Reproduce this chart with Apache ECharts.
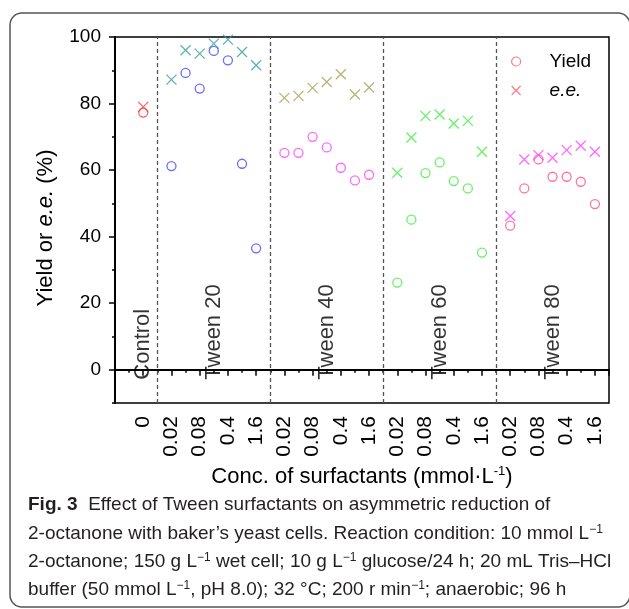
<!DOCTYPE html>
<html>
<head>
<meta charset="utf-8">
<script src="https://cdn.jsdelivr.net/npm/echarts@6/dist/echarts.min.js"></script>
<style>
  html, body { margin: 0; padding: 0; background: #fff; }
  #chart { width: 629px; height: 609px; }
</style>
</head>
<body>
<div id="chart"></div>
<script>
  // values (%), one entry per concentration level
  var groupNames = ['Control', 'Tween 20', 'Tween 40', 'Tween 60', 'Tween 80'];
  var concLevels = ['0.02', '0.04', '0.08', '0.2', '0.4', '0.8', '1.6'];
  var shownConc = ['0', '0.02', '0.08', '0.4', '1.6'];

  var controlYield = [77.3];
  var controlEe = [79.0];
  var t20Yield = [61.2, 89.2, 84.5, 95.8, 93.0, 61.9, 36.5];
  var t20Ee = [87.2, 96.0, 95.0, 98.0, 99.2, 95.5, 91.5];
  var t40Yield = [65.2, 65.2, 70.0, 66.8, 60.7, 56.9, 58.6];
  var t40Ee = [81.7, 82.3, 84.7, 86.5, 88.8, 82.7, 84.8];
  var t60Yield = [26.2, 45.1, 59.1, 62.3, 56.7, 54.5, 35.2];
  var t60Ee = [59.2, 69.8, 76.3, 76.7, 74.0, 74.8, 65.5];
  var t80Yield = [43.3, 54.5, 63.2, 58.0, 58.0, 56.5, 49.8];
  var t80Ee = [46.2, 63.2, 64.5, 63.7, 66.0, 67.3, 65.5];

  var yieldColors = ['#ff3a3a', '#4646ff', '#ff44ff', '#44ee44', '#ff4f8f'];
  var eeColors = ['#ff3a3a', '#3a9e9e', '#a3a352', '#44ee44', '#ff44ff'];

  var groups = [
    { yld: controlYield, ee: controlEe, conc: ['0'] },
    { yld: t20Yield, ee: t20Ee, conc: concLevels },
    { yld: t40Yield, ee: t40Ee, conc: concLevels },
    { yld: t60Yield, ee: t60Ee, conc: concLevels },
    { yld: t80Yield, ee: t80Ee, conc: concLevels }
  ];

  // slot layout on the x axis: one empty slot, then each group followed by a divider slot
  var slotLabels = {};
  var dividers = [];
  var centers = [];
  var slot = 2;
  groups.forEach(function (g) {
    g.start = slot;
    g.conc.forEach(function (c, i) {
      if (shownConc.indexOf(c) >= 0) slotLabels[slot + i] = c;
    });
    centers.push(slot + (g.conc.length - 1) / 2);
    slot += g.conc.length;
    dividers.push(slot);
    slot += 1;
  });
  dividers.pop();

  var crossPath = 'path://M0,0L10,10M10,0L0,10';
  var font = 'Liberation Sans, Arial, sans-serif';
  var capFont = '19px "Liberation Sans", Arial, sans-serif';

  var series = [];
  groups.forEach(function (g, gi) {
    series.push({
      name: 'Yield', type: 'scatter', symbol: 'circle', symbolSize: 9,
      itemStyle: { color: 'transparent', borderColor: yieldColors[gi], borderWidth: 1.3 },
      data: g.yld.map(function (v, i) { return [g.start + i, v]; })
    });
    series.push({
      name: 'e.e.', type: 'scatter', symbol: crossPath, symbolSize: 10,
      itemStyle: { color: 'transparent', borderColor: eeColors[gi], borderWidth: 1.3 },
      data: g.ee.map(function (v, i) { return [g.start + i, v]; })
    });
  });

  // group names written vertically inside the plot, plus the dashed dividers
  series.push({
    name: 'groups', type: 'scatter', symbolSize: 0, silent: true,
    data: groupNames.map(function (n, i) { return { value: [centers[i], -3], name: n }; }),
    label: {
      show: true, position: 'inside', rotate: 90, align: 'left', verticalAlign: 'middle',
      formatter: '{b}', fontSize: 22, color: '#000', fontFamily: font
    },
    markLine: {
      silent: true, symbol: 'none', label: { show: false },
      lineStyle: { type: [4, 3], color: '#555', width: 1.3 },
      data: dividers.map(function (d) { return { xAxis: d }; })
    }
  });

  var chart = echarts.init(document.getElementById('chart'));
  chart.setOption({
    animation: false,
    backgroundColor: '#fff',
    textStyle: { fontFamily: font },
    grid: { left: 115, right: 20, top: 37, bottom: 206, show: true, borderColor: '#000', borderWidth: 1.5 },
    legend: {
      orient: 'vertical', left: 506, top: 47, itemWidth: 9, itemHeight: 9, itemGap: 10,
      selectedMode: false,
      textStyle: {
        fontSize: 19, color: '#000', padding: [0, 0, 0, 24], fontFamily: font,
        rich: { i: { fontSize: 19, fontStyle: 'italic', color: '#000', fontFamily: font } }
      },
      formatter: function (n) { return n === 'e.e.' ? '{i|e.e.}' : n; },
      data: [
        { name: 'Yield', icon: 'circle', itemStyle: { color: 'transparent', borderColor: '#ff5a6e', borderWidth: 1.2 } },
        { name: 'e.e.', icon: crossPath, itemStyle: { color: 'transparent', borderColor: '#ff5a6e', borderWidth: 1.2 } }
      ]
    },
    xAxis: [{
      type: 'value', min: 0, max: 35, interval: 1,
      axisLine: { lineStyle: { color: '#000', width: 2 } },
      axisTick: { length: 3, lineStyle: { color: '#000', width: 1.5 } },
      axisLabel: { show: false },
      splitLine: { show: false }
    }, {
      type: 'value', min: 0, max: 35, interval: 2, position: 'bottom',
      axisLine: { show: false },
      axisTick: { length: 6, lineStyle: { color: '#000', width: 1.5 } },
      axisLabel: {
        rotate: 90, fontSize: 21, color: '#000', margin: 13,
        formatter: function (v) { return slotLabels[v] || ''; }
      },
      splitLine: { show: false },
      name: 'Conc. of surfactants (mmol·L{s|-1})',
      nameLocation: 'middle', nameGap: 61,
      nameTextStyle: {
        fontSize: 22, color: '#000',
        rich: { s: { fontSize: 13, verticalAlign: 'top', padding: [0, 0, 12, 0] } }
      }
    }],
    yAxis: [{
      type: 'value', min: -10, max: 100, interval: 10,
      axisLine: { show: true, lineStyle: { color: '#000', width: 2 } },
      axisTick: { show: true, length: 3, lineStyle: { color: '#000', width: 1.5 } },
      axisLabel: { show: false },
      splitLine: { show: false }
    }, {
      type: 'value', min: -10, max: 100, position: 'left',
      axisLine: { show: false },
      axisTick: { show: true, length: 6, lineStyle: { color: '#000', width: 1.5 }, customValues: [0, 20, 40, 60, 80, 100] },
      axisLabel: { fontSize: 19, color: '#000', margin: 14, customValues: [0, 20, 40, 60, 80, 100] },
      splitLine: { show: false },
      name: '{a|Yield or }{i|e.e.}{a| (%)}',
      nameLocation: 'middle', nameGap: 58,
      nameTextStyle: {
        color: '#000', padding: [0, 16, 0, 0],
        rich: {
          a: { fontSize: 22, color: '#000' },
          i: { fontSize: 22, color: '#000', fontStyle: 'italic' }
        }
      }
    }],
    graphic: [
      { type: 'rect', shape: { x: 10, y: 13, width: 620, height: 594, r: 12 },
        style: { fill: 'none', stroke: '#555', lineWidth: 1.5 }, silent: true },
      { type: 'text', left: 28, top: 495, style: {
          text: '{b|Fig. 3}  Effect of Tween surfactants on asymmetric reduction of',
          font: capFont, fill: '#231f20',
          rich: { b: { fontWeight: 'bold', fontSize: 19, fontFamily: 'Liberation Sans', fill: '#231f20' } } } },
      { type: 'text', left: 28, top: 524, style: {
          text: '2-octanone with baker’s yeast cells. Reaction condition: 10 mmol L{s|−1}',
          font: capFont, fill: '#231f20',
          rich: { s: { fontSize: 12, verticalAlign: 'top', fontFamily: 'Liberation Sans', fill: '#231f20' } } } },
      { type: 'text', left: 28, top: 552, style: {
          text: '2-octanone; 150 g L{s|−1} wet cell; 10 g L{s|−1} glucose/24 h; 20 mL Tris–HCl',
          font: capFont, fill: '#231f20',
          rich: { s: { fontSize: 12, verticalAlign: 'top', fontFamily: 'Liberation Sans', fill: '#231f20' } } } },
      { type: 'text', left: 28, top: 580, style: {
          text: 'buffer (50 mmol L{s|−1}, pH 8.0); 32 °C; 200 r min{s|−1}; anaerobic; 96 h',
          font: capFont, fill: '#231f20',
          rich: { s: { fontSize: 12, verticalAlign: 'top', fontFamily: 'Liberation Sans', fill: '#231f20' } } } }
    ],
    series: series
  });
</script>
</body>
</html>
